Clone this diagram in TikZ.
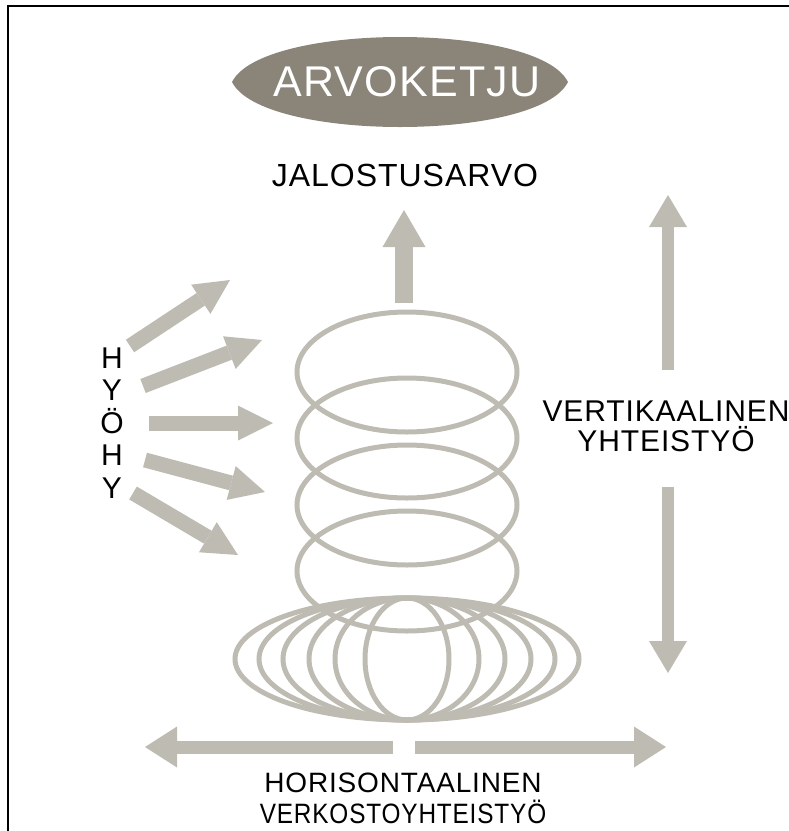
\documentclass[tikz,border=0pt]{standalone}
\usepackage{fontspec}
\setmainfont{Liberation Sans}
\newfontfamily\tagfont[LetterSpace=3]{Liberation Sans}
\newfontfamily\tagnarrow[LetterSpace=3,FakeStretch=0.87]{Liberation Sans}
\usetikzlibrary{arrows.meta}

\definecolor{ringColor}{RGB}{190,188,178}
\definecolor{chainColor}{RGB}{138,133,120}

\begin{document}
\begin{tikzpicture}[x=1pt,y=1pt,
    ring/.style={draw=ringColor,line width=5pt},
    fatarrow/.style n args={3}{draw=ringColor,line width=#1,
      -{Triangle[width=#2,length=#3,line width=0pt]}},
    tag/.style={inner sep=0pt,align=center}]
  \useasboundingbox (0,0) rectangle (789,-831);
  % Frame
  \draw[line width=2.5pt] (8,-831) -- (8,-6) -- (789,-6);
  % Title
  \fill[chainColor] (232,-82) .. controls (262,-22) and (538,-22) .. (568,-82)
    .. controls (538,-142) and (262,-142) .. (232,-82);
  \node[tag,text=white,font=\tagfont\fontsize{43}{43}\selectfont] (chain) at (407,-82) {ARVOKETJU};
  \node[tag,font=\tagfont\fontsize{32}{32}\selectfont] (value) at (405,-175) {JALOSTUSARVO};
  \coordinate (upFoot) at (404,-303);
  \coordinate (upTip) at (404,-210);
  \draw[fatarrow={18pt}{43pt}{37pt}] (upFoot) -- (upTip);
  % Rings
  \foreach \y in {372,438,505,571}
    \draw[ring] (407,-\y) ellipse [x radius=110,y radius=60];
  \foreach \r in {172,148,124,98,72,42}
    \draw[ring] (407,-659) ellipse [x radius=\r,y radius=61];
  % Left
  \node[tag,font=\tagfont\fontsize{30}{32.5}\selectfont] (zone) at (112,-423) {H\\Y\\Ö\\H\\Y};
  \coordinate (in1) at (130,-346);  \coordinate (out1) at (230,-280);
  \coordinate (in2) at (143,-386);  \coordinate (out2) at (262,-340);
  \coordinate (in3) at (149,-423);  \coordinate (out3) at (273,-423);
  \coordinate (in4) at (145,-460);  \coordinate (out4) at (265,-492);
  \coordinate (in5) at (133,-493);  \coordinate (out5) at (238,-555);
  \draw[fatarrow={15pt}{35pt}{35pt}] (in1) -- (out1);
  \draw[fatarrow={15pt}{35pt}{35pt}] (in2) -- (out2);
  \draw[fatarrow={15pt}{35pt}{35pt}] (in3) -- (out3);
  \draw[fatarrow={15pt}{35pt}{35pt}] (in4) -- (out4);
  \draw[fatarrow={15pt}{35pt}{35pt}] (in5) -- (out5);
  % Right
  \node[tag,font=\tagfont\fontsize{30}{30}\selectfont] (vert) at (666,-426) {VERTIKAALINEN\\YHTEISTYÖ};
  \coordinate (vTop) at (668,-195);
  \coordinate (vUpper) at (668,-370);
  \coordinate (vLower) at (668,-487);
  \coordinate (vBottom) at (668,-673);
  \draw[fatarrow={12pt}{38pt}{32pt}] (vUpper) -- (vTop);
  \draw[fatarrow={12pt}{38pt}{32pt}] (vLower) -- (vBottom);
  % Bottom
  \coordinate (hMidL) at (393,-747);
  \coordinate (hLeft) at (145,-747);
  \coordinate (hMidR) at (415,-747);
  \coordinate (hRight) at (666,-747);
  \draw[fatarrow={13pt}{41pt}{32pt}] (hMidL) -- (hLeft);
  \draw[fatarrow={13pt}{41pt}{32pt}] (hMidR) -- (hRight);
  \node[tag,font=\tagfont\fontsize{28}{31}\selectfont] (horiz) at (403,-798)
    {HORISONTAALINEN\\{\tagnarrow VERKOSTOYHTEISTYÖ}};
\end{tikzpicture}
\end{document}
